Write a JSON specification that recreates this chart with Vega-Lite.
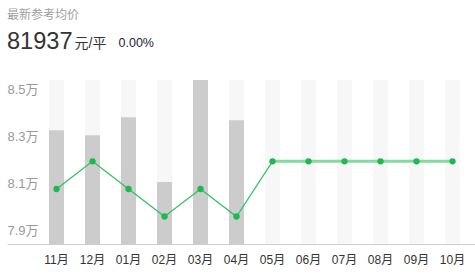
{
  "$schema": "https://vega.github.io/schema/vega-lite/v6.json",
  "width": 468,
  "height": 164,
  "autosize": {"type": "none"},
  "padding": {"left": 7, "top": 80, "right": 0, "bottom": 34},
  "config": {
    "view": {"stroke": null},
    "font": "Liberation Sans, Noto Sans CJK SC, sans-serif"
  },
  "title": {
    "text": "最新参考均价",
    "subtitle": "81937",
    "anchor": "start",
    "frame": "group",
    "fontSize": 12,
    "fontWeight": "normal",
    "color": "#a0a0a0",
    "subtitleFontSize": 23.6,
    "subtitleColor": "#333333",
    "subtitlePadding": 8,
    "offset": -19
  },
  "data": {
    "values": [
      {"month": "11月", "price": 80760, "actual": 80760, "forecast": null, "bg": 100, "vol": 69.3},
      {"month": "12月", "price": 81937, "actual": 81937, "forecast": null, "bg": 100, "vol": 66.3},
      {"month": "01月", "price": 80760, "actual": 80760, "forecast": null, "bg": 100, "vol": 77.3},
      {"month": "02月", "price": 79590, "actual": 79590, "forecast": null, "bg": 100, "vol": 37.8},
      {"month": "03月", "price": 80760, "actual": 80760, "forecast": null, "bg": 100, "vol": 100},
      {"month": "04月", "price": 79590, "actual": 79590, "forecast": null, "bg": 100, "vol": 75.4},
      {"month": "05月", "price": 81937, "actual": 81937, "forecast": 81937, "bg": 100, "vol": null},
      {"month": "06月", "price": 81937, "actual": null, "forecast": 81937, "bg": 100, "vol": null},
      {"month": "07月", "price": 81937, "actual": null, "forecast": 81937, "bg": 100, "vol": null},
      {"month": "08月", "price": 81937, "actual": null, "forecast": 81937, "bg": 100, "vol": null},
      {"month": "09月", "price": 81937, "actual": null, "forecast": 81937, "bg": 100, "vol": null},
      {"month": "10月", "price": 81937, "actual": null, "forecast": 81937, "bg": 100, "vol": null}
    ]
  },
  "encoding": {
    "x": {
      "field": "month",
      "type": "ordinal",
      "scale": {
        "domain": ["11月", "12月", "01月", "02月", "03月", "04月", "05月", "06月", "07月", "08月", "09月", "10月"],
        "paddingInner": 0.5833,
        "paddingOuter": 0.7917,
        "align": 0.737
      },
      "axis": {
        "labelAngle": 0,
        "ticks": false,
        "labelPadding": 10,
        "labelFontSize": 12,
        "labelColor": "#333333",
        "domainColor": "#cccccc",
        "domainWidth": 1,
        "title": "0.00%",
        "titleX": 111,
        "titleY": -198,
        "titleAlign": "left",
        "titleBaseline": "alphabetic",
        "titleFontSize": 12.5,
        "titleFontWeight": "normal",
        "titleColor": "#222244"
      }
    }
  },
  "layer": [
    {
      "layer": [
        {
          "mark": {"type": "bar", "color": "#f7f7f7"},
          "encoding": {
            "y": {"field": "bg", "type": "quantitative", "scale": {"domain": [0, 100]}, "axis": null}
          }
        },
        {
          "mark": {"type": "bar", "color": "#cccccc"},
          "encoding": {
            "y": {"field": "vol", "type": "quantitative", "scale": {"domain": [0, 100]}, "axis": null}
          }
        }
      ]
    },
    {
      "layer": [
        {
          "mark": {"type": "line", "color": "#2ec15e", "strokeWidth": 1.2},
          "encoding": {
            "y": {
              "field": "actual",
              "type": "quantitative",
              "scale": {"domain": [78420, 85400], "nice": false, "zero": false},
              "axis": {
                "values": [79000, 81000, 83000, 85000],
                "labelExpr": "format(datum.value / 10000, '.1f') + '万'",
                "labelAlign": "left",
                "labelBaseline": "middle",
                "labelPadding": 0,
                "ticks": false,
                "domain": false,
                "grid": false,
                "labelFontSize": 13,
                "labelColor": "#999999",
                "title": "元/平",
                "titleAngle": 0,
                "titleX": 67,
                "titleY": -33,
                "titleAlign": "left",
                "titleBaseline": "alphabetic",
                "titleFontSize": 14,
                "titleFontWeight": "normal",
                "titleColor": "#333333"
              }
            }
          }
        },
        {
          "mark": {"type": "line", "color": "#82dba0", "strokeWidth": 3},
          "encoding": {
            "y": {"field": "forecast", "type": "quantitative"}
          }
        },
        {
          "mark": {"type": "point", "filled": true, "opacity": 1, "color": "#1db950", "size": 40},
          "encoding": {
            "y": {"field": "price", "type": "quantitative"}
          }
        }
      ]
    }
  ],
  "resolve": {"scale": {"y": "independent"}}
}
